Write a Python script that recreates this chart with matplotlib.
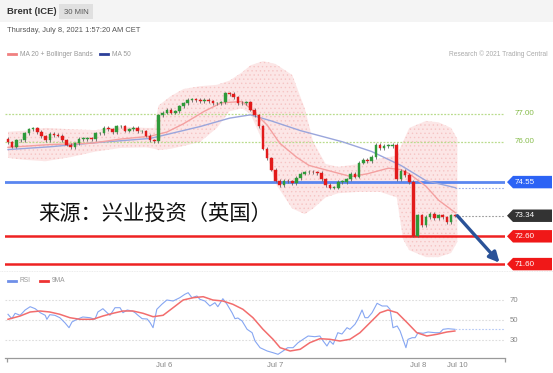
import matplotlib
matplotlib.use('Agg')
import matplotlib.pyplot as plt
import matplotlib.transforms as mtrans
from matplotlib.patches import Polygon, Rectangle
from matplotlib.lines import Line2D

# ---------------- data ----------------
open_first = 76.10
closes = [75.98, 75.82, 76.05, 76.05, 76.30, 76.45, 76.48, 76.35, 76.20, 76.05,
          76.28, 76.25, 76.22, 76.05, 75.90, 75.80, 75.95, 76.10, 76.10, 76.12,
          76.10, 76.30, 76.30, 76.50, 76.45, 76.35, 76.55, 76.55, 76.40, 76.45,
          76.50, 76.38, 76.38, 76.22, 76.05, 76.02, 76.95, 77.05, 77.15, 77.05,
          77.10, 77.28, 77.38, 77.50, 77.52, 77.50, 77.47, 77.50, 77.46, 77.38,
          77.38, 77.42, 77.74, 77.72, 77.60, 77.40, 77.38, 77.42, 77.15, 76.95,
          76.55, 75.75, 75.40, 75.00, 74.60, 74.45, 74.60, 74.58, 74.50, 74.70,
          74.85, 74.90, 74.92, 74.90, 74.88, 74.65, 74.45, 74.35, 74.35, 74.55,
          74.55, 74.65, 74.85, 74.75, 75.25, 75.35, 75.30, 75.45, 75.88, 75.78,
          75.85, 75.85, 75.90, 74.65, 74.95, 74.80, 74.55, 72.62, 73.35, 73.00,
          73.30, 73.40, 73.25, 73.35, 73.28, 73.12, 73.35, 73.34]

band_t = [0, 4, 9, 15, 21, 27, 33, 35, 36, 39, 42, 46, 50, 53, 56, 58, 61, 64,
          68, 71, 73, 76, 79, 84, 89, 93, 94.5, 96, 100, 103, 106, 107.5]
band_upper = [76.36, 76.40, 76.50, 76.45, 76.42, 76.55, 76.50, 76.50, 77.30, 77.65,
              77.90, 78.00, 78.05, 78.20, 78.50, 78.75, 78.90, 78.80, 78.40, 77.20,
              76.00, 75.20, 75.10, 75.20, 75.40, 75.50, 76.00, 76.50, 76.75, 76.70,
              76.50, 76.10]
band_lower = [75.42, 75.35, 75.30, 75.45, 75.65, 75.78, 75.80, 75.75, 75.70, 75.75,
              75.85, 76.00, 76.50, 77.10, 77.20, 77.00, 76.00, 74.50, 73.60, 73.40,
              73.60, 74.00, 74.15, 74.20, 74.20, 74.00, 72.50, 72.10, 71.85, 71.85,
              72.00, 72.40]

ma20_t = [0, 10, 20, 27, 34, 38, 42, 47, 51, 56, 58, 62, 65, 69, 72, 77, 82, 86,
          91, 94, 96, 100, 103, 107]
ma20 = [75.80, 75.90, 75.95, 76.10, 76.20, 76.35, 76.65, 77.10, 77.40, 77.45, 77.20,
        76.60, 75.95, 75.45, 75.15, 74.95, 74.75, 74.85, 75.05, 75.00, 74.85, 74.40,
        73.90, 73.45]

ma50_t = [0, 10, 22, 34, 46, 53, 58, 63, 70, 80, 87, 94, 100, 107]
ma50 = [75.72, 75.82, 75.98, 76.12, 76.55, 76.85, 76.97, 76.75, 76.40, 76.00, 75.65,
        75.15, 74.60, 74.35]

rsi_t = [0, 0.9, 1.7, 2.9, 4.1, 5.3, 6.5, 7.7, 8.9, 9.3, 10, 11.2, 12.4, 13.6, 14.6,
         15.3, 16.5, 17.9, 19.6, 20.8, 21.5, 22.7, 23.7, 24.4, 25.6, 26.8, 27.5, 28.5,
         29.7, 30.4, 31.1, 32.1, 33.3, 34, 34.7, 35.6, 36.8, 38, 39.5, 41.1, 42.3, 43.1,
         44, 45.2, 45.9, 47.1, 48.3, 49.5, 50.2, 51.4, 52.4, 53.6, 54.3, 55, 56, 57.2,
         58.4, 59.1, 60.3, 62, 63.4, 64.6, 65.8, 66.9, 68.2, 69.4, 70.6, 71.8, 73.4,
         74.6, 75.4, 76.3, 77, 77.8, 78.9, 79.9, 81.1, 81.8, 83, 83.7, 84.7, 85.4, 86.1,
         87.1, 88.3, 89.5, 90.7, 91.4, 92.1, 93.1, 93.8, 94.5, 95.2, 95.7, 96.7, 97.4,
         98.1, 99.3, 100.5, 102.2, 103.3, 104.1, 105.3, 106.9]
rsi = [55.7, 51.3, 56.7, 54.7, 60.0, 63.3, 61.3, 57.3, 54.7, 50.7, 55.3, 54.7, 52.3,
       47.3, 42.3, 48.0, 50.7, 53.0, 52.3, 50.7, 58.0, 61.3, 57.3, 54.7, 62.3, 62.3,
       57.3, 60.0, 59.0, 57.3, 54.7, 51.3, 51.0, 47.3, 42.3, 60.7, 65.7, 70.0, 69.0,
       72.3, 75.7, 77.3, 72.3, 74.0, 70.7, 69.0, 64.0, 67.3, 63.3, 71.3, 65.7, 57.3,
       51.3, 52.0, 49.0, 40.7, 37.3, 29.0, 22.3, 19.0, 17.3, 15.7, 19.0, 22.3, 22.3,
       27.3, 30.7, 34.0, 33.3, 34.0, 29.0, 24.0, 29.0, 25.7, 37.3, 36.0, 42.3, 40.7,
       45.7, 50.7, 60.0, 52.3, 52.3, 57.3, 66.7, 64.0, 64.0, 60.7, 42.3, 44.0, 39.0,
       30.7, 22.3, 30.7, 32.3, 32.3, 37.3, 36.7, 38.0, 37.3, 37.3, 40.7, 41.3, 40.7]

rsi_ma_t = [0, 2.9, 5.3, 7.7, 10, 12.4, 14.8, 17.2, 20.3, 22.7, 25.1, 27.5, 29.9, 32.3,
            34.7, 37.1, 39.5, 41.9, 44.3, 46.7, 49, 51.4, 53.8, 56.2, 58.6, 61, 63.4,
            65.1, 67.5, 69.9, 72.2, 74.6, 77, 79.4, 81.8, 84.2, 86.6, 89, 90.9, 93.1,
            95.5, 97.8, 100.2, 102.6, 105, 106.9]
rsi_ma = [50.7, 54.0, 58.0, 59.0, 58.0, 55.7, 52.3, 50.7, 50.7, 54.0, 56.7, 59.0, 59.0,
          56.7, 53.3, 54.7, 62.3, 70.0, 72.3, 73.3, 70.0, 69.0, 65.7, 60.7, 52.3, 40.7,
          30.7, 22.3, 19.0, 20.7, 27.3, 31.3, 30.7, 29.0, 30.7, 37.3, 47.3, 57.3, 60.0,
          57.3, 47.3, 37.3, 34.0, 35.7, 38.0, 39.0]

green_levels = [77.00, 76.00]
blue_level = 74.55
last_price = 73.34
red_levels = [72.60, 71.60]
rsi_levels = [70, 50, 30]
date_ticks = [37.3, 63.9, 98.1, 107.4]
date_labels = ['Jul 6', 'Jul 7', 'Jul 8', 'Jul 10']

# ---------------- layout ----------------
W, H = 553, 373
fig = plt.figure(figsize=(W / 100, H / 100), dpi=100)
fig.patch.set_facecolor('white')
plt.rcParams['font.family'] = ['Liberation Sans', 'DejaVu Sans']

def fx(px):
    return px / W

def fy(py):
    return 1 - py / H

XL = (-0.72, 118.9)
ax = fig.add_axes([fx(5), fy(270), fx(500), (270 - 55) / H])
ax.set_xlim(*XL)
ax.set_ylim(71.388, 79.122)
ax.axis('off')

# header strip
fig.patches.append(Rectangle((0, fy(22)), 1, 22 / H, transform=fig.transFigure,
                             facecolor='#f4f4f4', edgecolor='none', zorder=0))
fig.patches.append(Rectangle((fx(59), fy(19)), fx(34), 15 / H, transform=fig.transFigure,
                             facecolor='#e0e0e0', edgecolor='none', zorder=1))
fig.text(fx(7), fy(12), 'Brent (ICE)', fontsize=6.8, fontweight='bold', color='#333333',
         va='center', ha='left')
fig.text(fx(76), fy(12), '30 MIN', fontsize=5.6, color='#555555', va='center', ha='center')
fig.text(fx(7), fy(30), 'Thursday, July 8, 2021 1:57:20 AM CET', fontsize=5.4,
         color='#555555', va='center', ha='left')

# top legend
fig.lines.append(Line2D([fx(8), fx(16)], [fy(54), fy(54)], transform=fig.transFigure,
                        color='#f08080', lw=2))
fig.text(fx(20), fy(54), 'MA 20 + Bollinger Bands', fontsize=4.8, color='#999999',
         va='center', ha='left')
fig.lines.append(Line2D([fx(100), fx(108)], [fy(54), fy(54)], transform=fig.transFigure,
                        color='#2b3f99', lw=2))
fig.text(fx(112), fy(54), 'MA 50', fontsize=4.8, color='#999999', va='center', ha='left')
fig.text(fx(548), fy(54), 'Research \u00a9 2021 Trading Central', fontsize=4.8,
         color='#aaaaaa', va='center', ha='right')

# bollinger band
plt.rcParams['hatch.linewidth'] = 0.5
ax.fill_between(band_t, band_lower, band_upper, facecolor='#fce6e6',
                edgecolor='#f6c4c4', hatch='....', linewidth=0, zorder=1)

# horizontal levels
for lv in green_levels:
    ax.axhline(lv, color='#b9dc8c', lw=0.9, ls=(0, (1.5, 1.2)), zorder=2)
ax.axhline(blue_level, color='#5a86f0', lw=2.0, zorder=2)
for lv in red_levels:
    ax.axhline(lv, color='#ee2222', lw=1.8, zorder=2)

# moving averages
ax.plot(ma50_t, ma50, color='#9aa6dc', lw=1.0, zorder=3)
ax.plot(ma20_t, ma20, color='#f4a0a0', lw=1.0, zorder=3)
ax.plot([ma50_t[-1], XL[1]], [ma50[-1], ma50[-1]], color='#9aaee8', lw=0.8,
        ls=(0, (1.5, 1.5)), zorder=2)

# candles
opens = [open_first] + closes[:-1]
for i, (o, c) in enumerate(zip(opens, closes)):
    up = c >= o
    col = '#2f9a3a' if up else '#e21b1b'
    lo, hi = min(o, c), max(o, c)
    ax.vlines(i, lo - 0.06, hi + 0.06, color='#666666', lw=0.6, zorder=4)
    ax.bar(i, max(hi - lo, 0.025), bottom=lo, width=0.62, color=col, edgecolor=col,
           linewidth=0.3, zorder=5)

# last price dotted
n = len(closes)
ax.plot([n - 1, XL[1]], [last_price, last_price], color='#999999', lw=0.8,
        ls=(0, (1.5, 1.5)), zorder=2)

# arrow to target
ax.annotate('', xy=(XL[1] - 1.3, red_levels[1] + 0.05), xytext=(n - 0.5, last_price),
            arrowprops=dict(arrowstyle='-|>,head_length=0.6,head_width=0.3',
                            color='#2a5298', lw=2.4, shrinkA=0, shrinkB=0), zorder=6)

# tags
bt = mtrans.blended_transform_factory(ax.transAxes, ax.transData)
h = 6.2 / 27.7

def tag(y, text, fc):
    pts = [(1.004, y), (1.016, y + h), (1.094, y + h), (1.094, y - h), (1.016, y - h)]
    ax.add_patch(Polygon(pts, closed=True, transform=bt, facecolor=fc, edgecolor='none',
                         clip_on=False, zorder=7))
    ax.text(1.02, y, text, transform=bt, fontsize=5.8, color='white', va='center',
            ha='left', clip_on=False, zorder=8)

for lv in green_levels:
    ax.text(1.02, lv, f'{lv:.2f}', transform=bt, fontsize=5.8, color='#86bc4a',
            va='center', ha='left', clip_on=False)
tag(blue_level, f'{blue_level:.2f}', '#2c63f5')
tag(last_price, f'{last_price:.2f}', '#333333')
for lv in red_levels:
    tag(lv, f'{lv:.2f}', '#f01818')

# chinese source text
fig.text(fx(38), fy(214), '来源：兴业投资（英国）', fontsize=15.3, color='#111111',
         va='center', ha='left', family=['Noto Sans CJK SC', 'DejaVu Sans'])

# panel separator
fig.lines.append(Line2D([0, 1], [fy(271), fy(271)], transform=fig.transFigure,
                        color='#e6e6e6', lw=0.6, ls=(0, (1, 1))))

# ---------------- RSI panel ----------------
rax = fig.add_axes([fx(5), fy(358.3), fx(500), 73.3 / H])
rax.set_xlim(*XL)
rax.set_ylim(11.7, 85)
for s in ['top', 'right', 'left']:
    rax.spines[s].set_visible(False)
rax.spines['bottom'].set_color('#9a9a9a')
rax.spines['bottom'].set_linewidth(0.9)
rax.set_yticks([])
rax.set_xticks(date_ticks)
rax.set_xticklabels(date_labels, fontsize=5.6, color='#888888')
rax.tick_params(axis='x', length=0, pad=3)
rax.set_xticks([XL[0] + 0.5, XL[1] - 0.1], minor=True)
rax.tick_params(axis='x', which='minor', length=3, color='#9a9a9a', width=0.9)
for lv in rsi_levels:
    rax.axhline(lv, color='#dddddd', lw=0.8, ls=(0, (1.5, 1.5)), zorder=1)
    rax.text(1.01, lv, str(lv), transform=mtrans.blended_transform_factory(rax.transAxes,
             rax.transData), fontsize=5.6, color='#888888', va='center', ha='left',
             clip_on=False)
rax.plot(rsi_t, rsi, color='#86a6f2', lw=0.8, zorder=3)
rax.plot(rsi_ma_t, rsi_ma, color='#f26d6d', lw=1.1, zorder=4)
rax.plot([rsi_t[-1], XL[1]], [rsi[-1], rsi[-1]], color='#b5c8f5', lw=0.8,
         ls=(0, (1.5, 1.5)), zorder=2)

fig.lines.append(Line2D([fx(8), fx(16)], [fy(281), fy(281)], transform=fig.transFigure,
                        color='#6f8fe8', lw=2))
fig.text(fx(20), fy(281), 'RSI', fontsize=4.8, color='#999999', va='center', ha='left')
fig.lines.append(Line2D([fx(40), fx(48)], [fy(281), fy(281)], transform=fig.transFigure,
                        color='#ee3333', lw=2))
fig.text(fx(52), fy(281), '9MA', fontsize=4.8, color='#999999', va='center', ha='left')

fig.savefig('out.png', dpi=100)
